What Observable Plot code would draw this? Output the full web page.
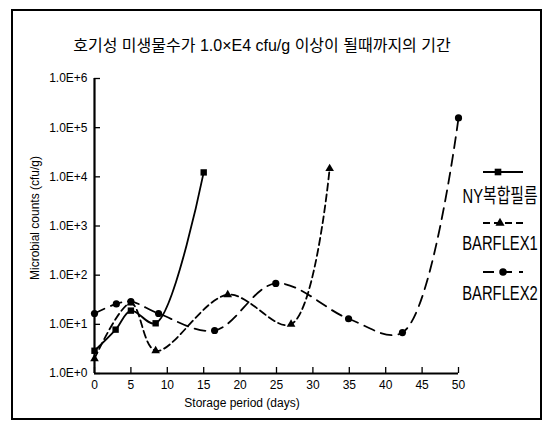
<!DOCTYPE html>
<html>
<head>
<meta charset="utf-8">
<script src="https://cdn.jsdelivr.net/npm/d3@7"></script>
<script src="https://cdn.jsdelivr.net/npm/@observablehq/plot@0.6"></script>
<style>
  html, body { margin: 0; padding: 0; background: white; }
  #chart { position: relative; width: 547px; height: 421px; }
</style>
</head>
<body>
<div id="chart"></div>
<script>
// ---- data ----
const titleText = "호기성 미생물수가 1.0×E4 cfu/g 이상이 될때까지의 기간";
const xLabel = "Storage period (days)";
const yLabel = "Microbial counts (cfu/g)";
const seriesNames = ["NY복합필름", "BARFLEX1", "BARFLEX2"];

const xTicks = [0, 5, 10, 15, 20, 25, 30, 35, 40, 45, 50];
const yTicks = [1, 10, 100, 1000, 10000, 100000, 1000000];
const yTickLabels = ["1.0E+0", "1.0E+1", "1.0E+2", "1.0E+3", "1.0E+4", "1.0E+5", "1.0E+6"];

const nyDays = [0, 2.9, 5, 8.4, 15];
const nyCounts = [2.9, 7.8, 19, 10.5, 12300];

const b1Days = [0, 5, 8.4, 18.3, 27, 32.3];
const b1Counts = [2.0, 27, 2.9, 40, 10, 14700];

const b2Days = [0, 3, 5, 8.8, 16.5, 24.9, 34.9, 42.3, 50];
const b2Counts = [16.6, 26, 29, 16.6, 7.5, 68, 13, 6.8, 158000];

// ---- build tables ----
const toRows = (days, counts) => days.map((d, i) => ({day: d, count: counts[i]}));
const ny = toRows(nyDays, nyCounts);
const b1 = toRows(b1Days, b1Counts);
const b2 = toRows(b2Days, b2Counts);

const W = 547, H = 421;
const mL = 94, mR = 89, mT = 78, mB = 48;
const plotW = W - mL - mR, plotH = H - mT - mB;
const FONT = "'Liberation Sans', Arial, 'Noto Sans CJK KR', sans-serif";

const dash1 = "7,4";
const dash2 = "11,7";

const svg = Plot.plot({
  width: W, height: H,
  marginLeft: mL, marginRight: mR, marginTop: mT, marginBottom: mB,
  style: {fontFamily: FONT, fontSize: "12px", background: "white", color: "black"},
  x: {domain: [0, 50]},
  y: {type: "log", domain: [1, 1e6]},
  marks: [
    Plot.axisX({ticks: xTicks, tickSize: 0, tickPadding: 7, label: null, fontSize: 12}),
    Plot.axisY({ticks: yTicks, tickSize: 0, tickPadding: 7, label: null, fontSize: 12,
      tickFormat: d => yTickLabels[yTicks.indexOf(d)]}),
    Plot.tickX(xTicks, {x: d => d, insetTop: plotH - 6, stroke: "black", strokeWidth: 1.3}),
    Plot.tickY(yTicks, {y: d => d, insetRight: plotW - 6, stroke: "black", strokeWidth: 1.3}),
    Plot.ruleX([0], {stroke: "black", strokeWidth: 2.2}),
    Plot.ruleY([1], {stroke: "black", strokeWidth: 2.2}),
    Plot.line(ny, {x: "day", y: "count", curve: "catmull-rom", stroke: "black", strokeWidth: 1.8}),
    Plot.line(b1, {x: "day", y: "count", curve: "catmull-rom", stroke: "black", strokeWidth: 1.8, strokeDasharray: dash1}),
    Plot.line(b2, {x: "day", y: "count", curve: "catmull-rom", stroke: "black", strokeWidth: 1.8, strokeDasharray: dash2}),
    Plot.dot(ny, {x: "day", y: "count", symbol: "square", fill: "black", r: 3.6}),
    Plot.dot(b1, {x: "day", y: "count", symbol: "triangle", fill: "black", r: 3.2}),
    Plot.dot(b2, {x: "day", y: "count", symbol: "circle", fill: "black", r: 3.6})
  ]
});

const s = d3.select(svg);

// frame border
s.insert("rect", ":first-child")
  .attr("x", 12).attr("y", 10).attr("width", 529).attr("height", 409)
  .attr("fill", "none").attr("stroke", "black").attr("stroke-width", 2);

// title
s.append("text")
  .attr("x", 262).attr("y", 51)
  .attr("text-anchor", "middle")
  .attr("font-family", FONT)
  .attr("font-size", 16)
  .attr("fill", "black")
  .text(titleText);

// y label
s.append("text")
  .attr("transform", "translate(39,218) rotate(-90)")
  .attr("text-anchor", "middle")
  .attr("font-family", FONT)
  .attr("font-size", 12)
  .attr("fill", "black")
  .text(yLabel);

// x label
s.append("text")
  .attr("x", 242).attr("y", 407)
  .attr("text-anchor", "middle")
  .attr("font-family", FONT)
  .attr("font-size", 12)
  .attr("fill", "black")
  .text(xLabel);

// legend
const legend = [
  {name: seriesNames[0], dash: null, sym: d3.symbolSquare, ly: 172, ty: 203, mx: 498},
  {name: seriesNames[1], dash: dash1, sym: d3.symbolTriangle, ly: 223, ty: 250, mx: 500},
  {name: seriesNames[2], dash: dash2, sym: d3.symbolCircle, ly: 272, ty: 300, mx: 503}
];
const lg = s.append("g");
legend.forEach(e => {
  lg.append("line")
    .attr("x1", 483).attr("x2", 523).attr("y1", e.ly).attr("y2", e.ly)
    .attr("stroke", "black").attr("stroke-width", 1.8)
    .attr("stroke-dasharray", e.dash);
  lg.append("path")
    .attr("d", d3.symbol(e.sym, e.sym === d3.symbolTriangle ? 36 : 44)())
    .attr("transform", `translate(${e.mx},${e.ly})`)
    .attr("fill", "black");
  lg.append("text")
    .attr("transform", `translate(500,${e.ty}) scale(0.74,1)`)
    .attr("text-anchor", "middle")
    .attr("font-family", FONT)
    .attr("font-size", 20)
    .attr("fill", "black")
    .text(e.name);
});

document.getElementById("chart").appendChild(svg);
</script>
</body>
</html>
